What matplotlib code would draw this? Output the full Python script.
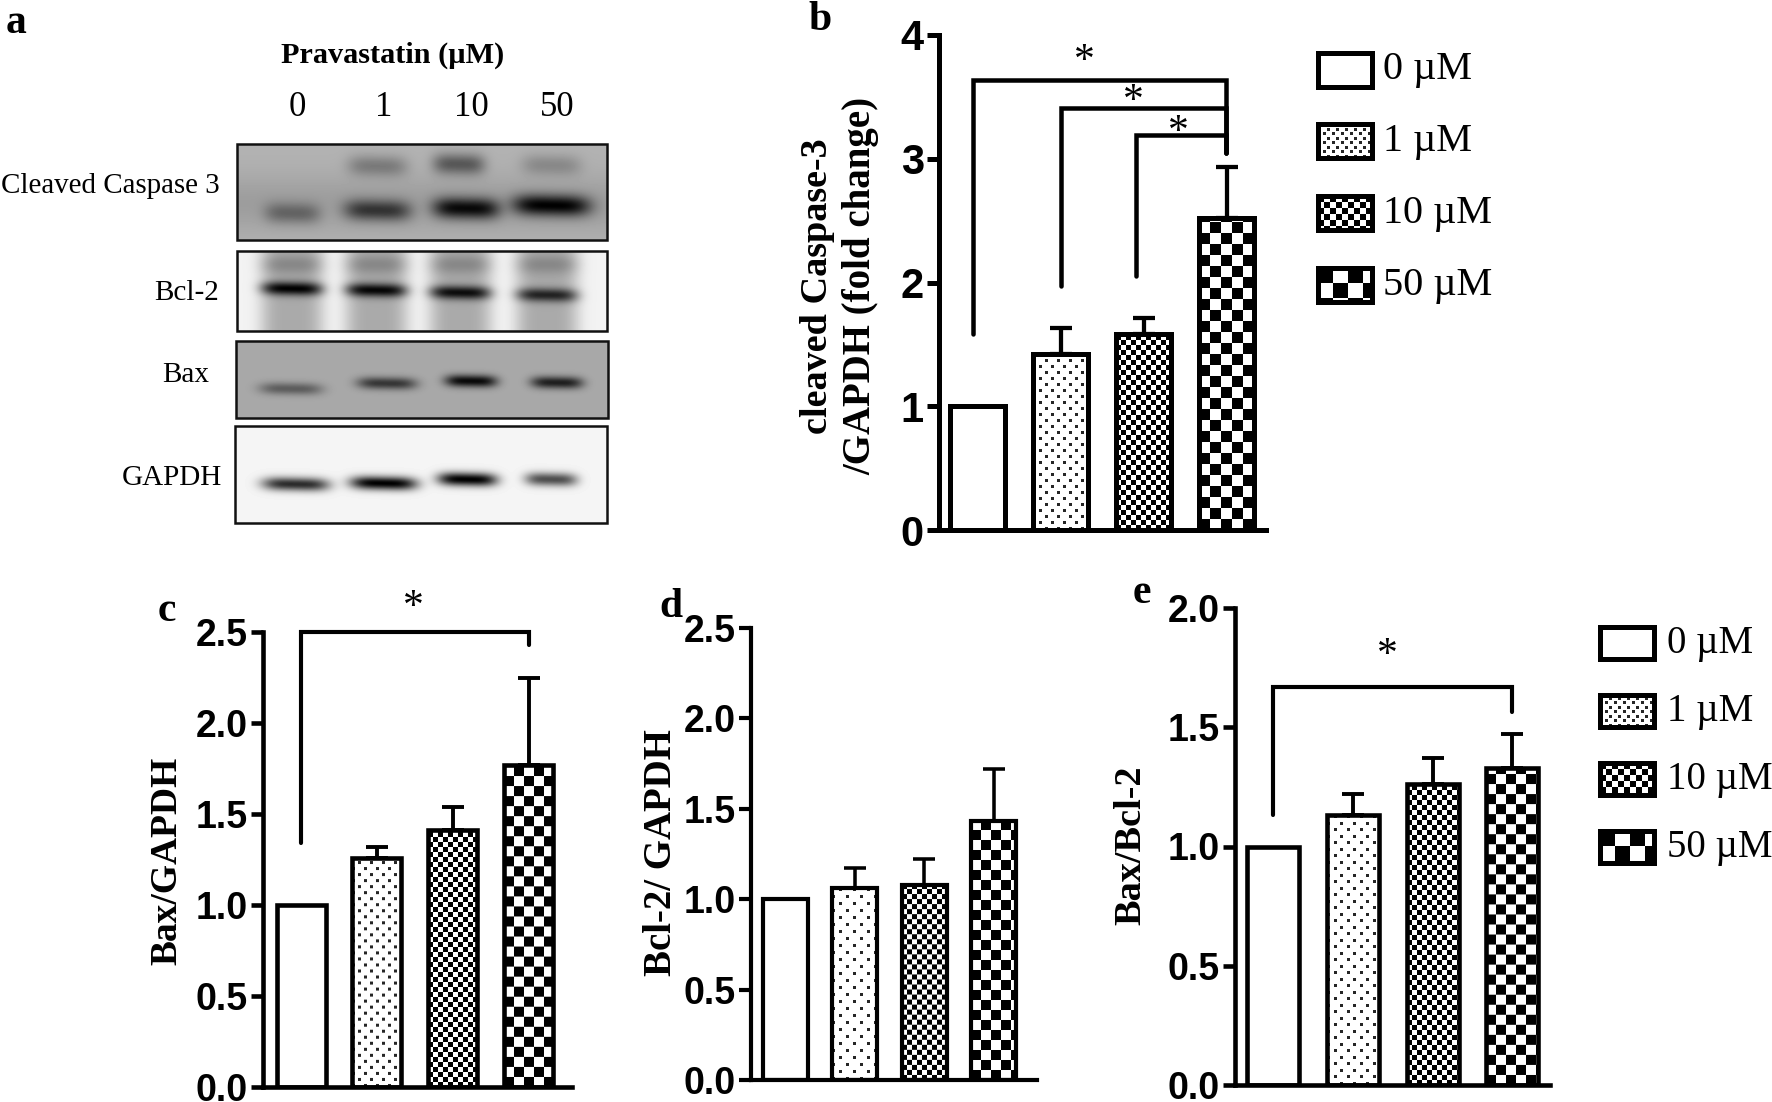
import numpy as np
import matplotlib
matplotlib.use("Agg")
import matplotlib.pyplot as plt
from matplotlib.patches import Rectangle

W, H = 1772, 1102
SERIF = "Liberation Serif"
SANS = "Liberation Sans"

# ---------- data ----------
doses = ["0", "1", "10", "50"]
legend_labels = ["0 µM", "1 µM", "10 µM", "50 µM"]
b_means = [1.0, 1.42, 1.58, 2.52]
b_errs = [0.0, 0.21, 0.13, 0.41]
c_means = [1.0, 1.26, 1.41, 1.77]
c_errs = [0.0, 0.06, 0.13, 0.48]
d_means = [1.0, 1.06, 1.08, 1.43]
d_errs = [0.0, 0.11, 0.14, 0.29]
e_means = [1.0, 1.13, 1.26, 1.33]
e_errs = [0.0, 0.09, 0.11, 0.14]
b_ticks = [0, 1, 2, 3, 4]
cd_ticks = [0.0, 0.5, 1.0, 1.5, 2.0, 2.5]
e_ticks = [0.0, 0.5, 1.0, 1.5, 2.0]
# brackets: x_left, y_left_end, x_right, y_top, y_right_end
b_brackets = [(-0.05, 1.58, 2.99, 3.64, 3.05), (1.0, 1.97, 2.99, 3.41, 3.05), (1.91, 2.05, 2.99, 3.19, 3.05)]
c_brackets = [(0.0, 1.34, 3.0, 2.5, 2.43)]
e_brackets = [(0.0, 1.13, 3.0, 1.668, 1.565)]
# blot bands (lane centre, row centre, half width, intensity), fractions of frame
casp_low = [(.15, .72, .075, .38), (.38, .69, .09, .68), (.62, .67, .09, .95), (.85, .64, .105, 1.0)]
casp_up = [(.38, .23, .08, .30), (.60, .21, .07, .50), (.85, .22, .08, .22)]
bcl_main = [(.149, .47, .08, 1.0), (.377, .49, .08, .97), (.604, .52, .08, .93), (.838, .55, .08, .80)]
bax_main = [(.148, .62, .085, .45), (.406, .55, .08, .68), (.632, .52, .07, .95), (.863, .54, .07, .82)]
gapdh_main = [(.164, .60, .09, .82), (.40, .59, .09, 1.0), (.625, .55, .08, 1.0), (.85, .55, .07, .68)]
bcl_lanes = [.149, .377, .604, .838]

plt.rcParams["font.family"] = SERIF
fig = plt.figure(figsize=(W / 100, H / 100), dpi=100, facecolor="white")


def pattern(kind, w, h, dot=12, chk=11):
    w, h = max(int(round(w)), 1), max(int(round(h)), 1)
    yy, xx = np.mgrid[0:h, 0:w]
    yy = h - 1 - yy
    if kind == 1:
        s = dot
        img = np.ones((h, w))
        img[((xx % s) < 3) & ((yy % s) < 3)] = 0.15
        img[(((xx + s // 2) % s) < 3) & (((yy + s // 2) % s) < 3)] = 0.15
    elif kind == 2:
        img = (((xx // 5) + (yy // 5)) % 2).astype(float)
    elif kind == 3:
        img = (((xx // chk) + (yy // chk)) % 2).astype(float)
    else:
        img = np.ones((h, w))
    return img


def make_axes(spine, end, y0, ytop, ymax):
    ax = fig.add_axes([spine / W, 1 - y0 / H, (end - spine) / W, (y0 - ytop) / H])
    ax.set_ylim(0, ymax)
    ax.patch.set_alpha(0)
    for s in ("top", "right"):
        ax.spines[s].set_visible(False)
    return ax


def panel(spine, end, y0, ytop, ymax, c0, step, bw, means, errs, ticks, fmt, lw, fs,
          brackets=(), dot=12, chk=11, tickfont=SANS):
    ax = make_axes(spine, end, y0, ytop, ymax)
    ax.spines["left"].set_linewidth(lw)
    ax.spines["bottom"].set_linewidth(lw)
    width = bw / step
    px_per_unit = (y0 - ytop) / ymax
    for i, (m, e) in enumerate(zip(means, errs)):
        img = pattern(i, bw, m * px_per_unit, dot, chk)
        ax.imshow(img, cmap="gray", vmin=0, vmax=1, aspect="auto", interpolation="bilinear",
                  extent=(i - width / 2, i + width / 2, 0, m), zorder=2)
        if e > 0:
            ax.errorbar(i, m, yerr=[[0], [e]], color="black", elinewidth=lw * 0.85,
                        capsize=8, capthick=lw * 0.85, zorder=1.5)
    ax.bar(range(len(means)), means, width=width, facecolor="none", edgecolor="black",
           linewidth=lw, zorder=3)
    ax.set_xlim((spine - c0) / step, (end - c0) / step)
    ax.set_ylim(0, ymax)
    ax.set_xticks([])
    ax.set_yticks(ticks)
    ax.set_yticklabels([fmt.format(t) for t in ticks], fontfamily=tickfont, fontweight="bold", fontsize=fs)
    for lab in ax.get_yticklabels():
        lab.set_verticalalignment("center_baseline")
    ax.tick_params(axis="y", length=9, width=lw, pad=2)
    for xl, yl, xr, yt, yr in brackets:
        ax.plot([xl, xl, xr, xr], [yl, yt, yt, yr], color="black", lw=lw * 0.9,
                solid_joinstyle="miter", solid_capstyle="round", clip_on=False, zorder=4)
    return ax


panel(939, 1266, 530, 35, 4, 977.5, 83, 55, b_means, b_errs, b_ticks, "{:d}", 3.6, 30, b_brackets)
panel(263, 572, 1087, 632, 2.5, 301, 75.9, 49, c_means, c_errs, cd_ticks, "{:.1f}", 3.3, 27, c_brackets, chk=10)
panel(751, 1037, 1080, 628, 2.5, 785, 69.5, 45, d_means, d_errs, cd_ticks, "{:.1f}", 3.0, 27, dot=14, chk=10)
panel(1235, 1550, 1085, 608, 2.0, 1273, 79.8, 52, e_means, e_errs, e_ticks, "{:.1f}", 3.3, 27, e_brackets, dot=13, chk=10)

# ---------- overlay in pixel space ----------
ov = fig.add_axes([0, 0, 1, 1], zorder=10)
ov.set_xlim(0, W)
ov.set_ylim(H, 0)
ov.axis("off")
ov.patch.set_alpha(0)


def txt(x, y, s, size, weight="normal", rot=0, ha="center", va="center", **k):
    ov.text(x, y, s, fontsize=size, fontweight=weight, rotation=rot, ha=ha, va=va,
            fontfamily=SERIF, **k)


def legend(x0, ys, box_w, box_h, tx, size):
    for i, (y, lab) in enumerate(zip(ys, legend_labels)):
        w, h = int(box_w), int(box_h)
        yy, xx = np.mgrid[0:h, 0:w]
        if i == 3:
            img = ((xx // 15 + yy // 15) % 2).astype(float)
        elif i == 2:
            img = ((xx // 6 + yy // 6) % 2).astype(float)
        else:
            img = pattern(i, w, h, 9)
        ov.imshow(img, cmap="gray", vmin=0, vmax=1, aspect="auto", interpolation="bilinear",
                  extent=(x0, x0 + box_w, y + box_h / 2, y - box_h / 2), zorder=2)
        ov.add_patch(Rectangle((x0, y - box_h / 2), box_w, box_h, fill=False, ec="black", lw=3.6, zorder=3))
        txt(tx, y, lab, size, ha="left", zorder=3)


legend(1318, [70, 141, 213, 285], 54, 34, 1383, 29)
legend(1600, [643, 711, 779, 847], 54, 32, 1667, 28)


def blot(x0, x1, y0, y1, bg, bands, extra=None, sig=0.055):
    n_y, n_x = int(y1 - y0), int(x1 - x0)
    yy, xx = np.mgrid[0:n_y, 0:n_x]
    fx, fy = (xx + 0.5) / n_x, (yy + 0.5) / n_y
    img = np.full((n_y, n_x), float(bg))
    if extra is not None:
        img = extra(fx, fy, img)
    for cx, cy, hw, amp in bands:
        prof = np.exp(-((np.abs(fx - cx) / hw) ** 4)) * np.exp(-(((fy - cy - 0.08 * (fx - cx)) / sig) ** 2))
        img = img * (1 - amp * prof)
    ov.imshow(img, cmap="gray", vmin=0, vmax=1, aspect="auto", interpolation="bilinear",
              extent=(x0, x1, y1, y0), zorder=2)
    ov.add_patch(Rectangle((x0, y0), x1 - x0, y1 - y0, fill=False, ec="#111111", lw=1.8, zorder=3))


def bcl_bg(fx, fy, img):
    for c in bcl_lanes:
        lane = np.exp(-((np.abs(fx - c) / 0.085) ** 4))
        body = 0.70 - 0.14 * np.exp(-(((fy - 0.17) / 0.12) ** 2))
        img = img * (1 - lane * (1 - body))
    return img


def casp_bg(fx, fy, img):
    return img * (1 - 0.12 * np.exp(-(((fy - 0.62) / 0.3) ** 2)))


blot(237, 607, 144, 240, 0.70, casp_low + casp_up, casp_bg, sig=0.11)
blot(237, 607, 251, 331, 0.95, bcl_main, bcl_bg, sig=0.085)
blot(236, 608, 341, 418, 0.66, bax_main, sig=0.08)
blot(235, 607, 426, 523, 0.96, gapdh_main, sig=0.07)

txt(1, 186, "Cleaved Caspase 3", 20.9, ha="left")
txt(219, 293, "Bcl-2", 21, ha="right")
txt(186, 375, "Bax", 21)
txt(172, 478, "GAPDH", 21)
txt(393, 55, "Pravastatin (µM)", 21.8, weight="bold")
for x, d in zip([297, 384, 471, 557], doses):
    txt(x, 108, d, 25)

for x, y, s in [(16, 23, "a"), (820, 20, "b"), (167, 611, "c"), (671, 607, "d"), (1142, 593, "e")]:
    txt(x, y, s, 30, weight="bold")

txt(818, 286, "cleaved Caspase-3", 27.5, weight="bold", rot=90)
txt(861, 286, "/GAPDH (fold change)", 28, weight="bold", rot=90)
txt(167, 861, "Bax/GAPDH", 27, weight="bold", rot=90)
txt(662, 853, "Bcl-2/ GAPDH", 28, weight="bold", rot=90)
txt(1131, 845, "Bax/Bcl-2", 27.5, weight="bold", rot=90)

for x, y in [(1084, 62), (1133, 102), (1178, 133), (413, 608), (1387, 656)]:
    txt(x, y, "*", 30, va="center")

fig.savefig("out.png", dpi=100, facecolor="white")
